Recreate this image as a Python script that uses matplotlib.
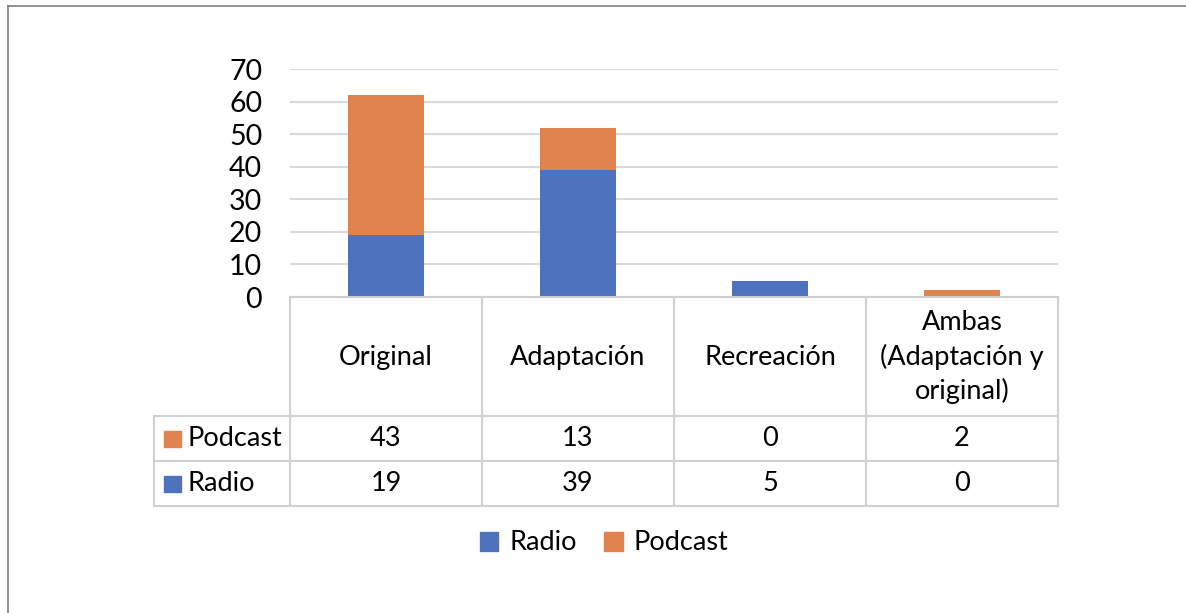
import matplotlib.pyplot as plt
from matplotlib.patches import Rectangle
from matplotlib.lines import Line2D

categories = ["Original", "Adaptación", "Recreación", "Ambas\n(Adaptación y\noriginal)"]
radio = [19, 39, 5, 0]
podcast = [43, 13, 0, 2]
series_names = ["Radio", "Podcast"]
yticks = [0, 10, 20, 30, 40, 50, 60, 70]

c_radio = "#4e72bd"
c_podcast = "#e0834f"
grid_c = "#d9d9d9"
plt.rcParams['font.family'] = ['Lato', 'DejaVu Sans']

W, H = 1186, 613
fig = plt.figure(figsize=(W / 100, H / 100), dpi=100)

def box(x0, y0, x1, y1):
    # pixel box -> figure fraction rect
    return [x0 / W, 1 - y1 / H, (x1 - x0) / W, (y1 - y0) / H]

# outer frame (top and left only)
fig.add_artist(Line2D([8 / W, 8 / W], [0, 1 - 6 / H], color="#7f7f7f", lw=1.2))
fig.add_artist(Line2D([8 / W, 1], [1 - 6 / H, 1 - 6 / H], color="#7f7f7f", lw=1.2))

ax = fig.add_axes(box(290, 69, 1058, 297))
x = list(range(len(categories)))
ax.bar(x, radio, width=0.4, color=c_radio, zorder=3)
ax.bar(x, podcast, width=0.4, bottom=radio, color=c_podcast, zorder=3)
ax.set_xlim(-0.5, 3.5)
ax.set_ylim(0, 70)
ax.set_yticks(yticks)
ax.yaxis.grid(True, color=grid_c, lw=1.5)
ax.set_axisbelow(True)
for s in ax.spines.values():
    s.set_visible(False)
ax.tick_params(axis="y", length=0, pad=20, labelsize=20.5)
ax.tick_params(axis="x", length=0, labelbottom=False)

# data table
tab = fig.add_axes(box(154, 297, 1058, 506))
left = -0.5 - 136 / 192
tab.set_xlim(left, 3.5)
tab.set_ylim(209, 0)
tab.axis("off")
lc = "#d0d0d0"
lw = 1.5
# horizontal lines
tab.plot([-0.5, 3.5], [0, 0], color=lc, lw=lw, clip_on=False)
for yy in [119, 164, 209]:
    tab.plot([left, 3.5], [yy, yy], color=lc, lw=lw, clip_on=False)
# vertical lines
tab.plot([left, left], [119, 209], color=lc, lw=lw, clip_on=False)
for i in range(len(categories) + 1):
    tab.plot([i - 0.5, i - 0.5], [0, 209], color=lc, lw=lw, clip_on=False)

for i, cat in enumerate(categories):
    tab.text(i, 60, cat, ha="center", va="center", fontsize=19.5, linespacing=1.4)
    tab.text(i, 141.5, str(podcast[i]), ha="center", va="center", fontsize=19.5)
    tab.text(i, 186.5, str(radio[i]), ha="center", va="center", fontsize=19.5)

for yy, name, col in [(141.5, "Podcast", c_podcast), (186.5, "Radio", c_radio)]:
    tab.add_patch(Rectangle((left + 10 / 192, yy - 8), 17 / 192, 16, color=col, clip_on=False))
    tab.text(left + 34 / 192, yy, name, ha="left", va="center", fontsize=19.5)

handles = [Rectangle((0, 0), 1, 1, color=c_radio), Rectangle((0, 0), 1, 1, color=c_podcast)]
fig.legend(handles, series_names, loc="center", bbox_to_anchor=(604 / W, 1 - 543 / H),
           ncol=2, frameon=False, fontsize=19.5, handlelength=0.7, handleheight=0.7,
           handletextpad=0.4, columnspacing=1.0)

fig.savefig("out.png", dpi=100)
